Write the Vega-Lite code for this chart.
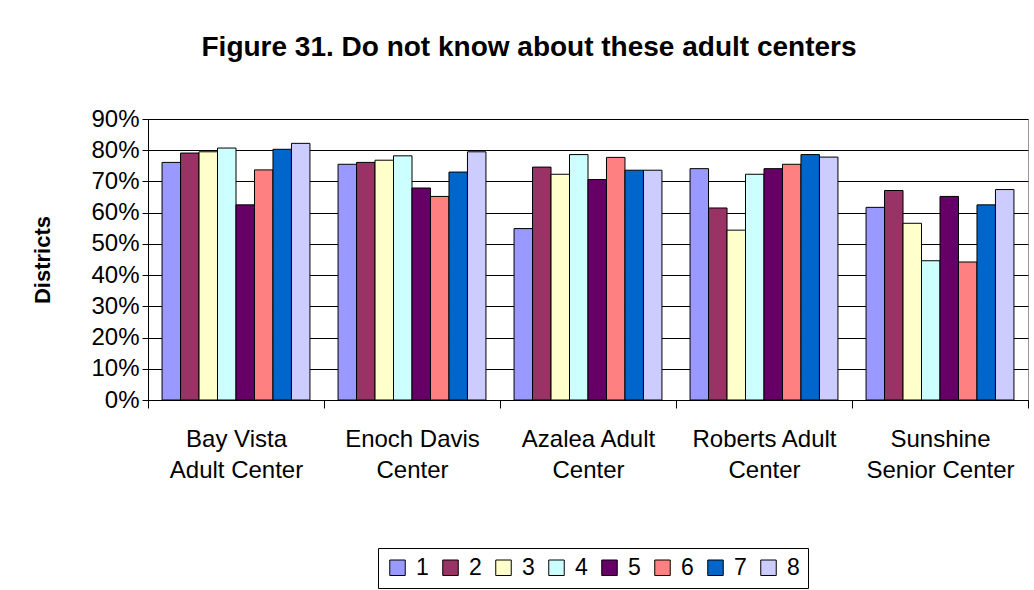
{
  "$schema": "https://vega.github.io/schema/vega-lite/v6.json",
  "width": 880,
  "height": 281,
  "autosize": {"type": "none"},
  "padding": {"left": 148, "top": 119, "right": 6, "bottom": 190},
  "background": "white",
  "title": {
    "text": "Figure 31. Do not know about these adult centers",
    "font": "Liberation Sans",
    "fontSize": 28,
    "fontWeight": "bold",
    "color": "black",
    "anchor": "middle",
    "dx": -59,
    "offset": 45
  },
  "data": {
    "values": [
      {"center": "Bay Vista Adult Center", "district": "1", "value": 0.761},
      {"center": "Bay Vista Adult Center", "district": "2", "value": 0.791},
      {"center": "Bay Vista Adult Center", "district": "3", "value": 0.795},
      {"center": "Bay Vista Adult Center", "district": "4", "value": 0.807},
      {"center": "Bay Vista Adult Center", "district": "5", "value": 0.625},
      {"center": "Bay Vista Adult Center", "district": "6", "value": 0.737},
      {"center": "Bay Vista Adult Center", "district": "7", "value": 0.803},
      {"center": "Bay Vista Adult Center", "district": "8", "value": 0.822},
      {"center": "Enoch Davis Center", "district": "1", "value": 0.755},
      {"center": "Enoch Davis Center", "district": "2", "value": 0.761},
      {"center": "Enoch Davis Center", "district": "3", "value": 0.768},
      {"center": "Enoch Davis Center", "district": "4", "value": 0.782},
      {"center": "Enoch Davis Center", "district": "5", "value": 0.679},
      {"center": "Enoch Davis Center", "district": "6", "value": 0.652},
      {"center": "Enoch Davis Center", "district": "7", "value": 0.730},
      {"center": "Enoch Davis Center", "district": "8", "value": 0.795},
      {"center": "Azalea Adult Center", "district": "1", "value": 0.549},
      {"center": "Azalea Adult Center", "district": "2", "value": 0.746},
      {"center": "Azalea Adult Center", "district": "3", "value": 0.723},
      {"center": "Azalea Adult Center", "district": "4", "value": 0.786},
      {"center": "Azalea Adult Center", "district": "5", "value": 0.706},
      {"center": "Azalea Adult Center", "district": "6", "value": 0.777},
      {"center": "Azalea Adult Center", "district": "7", "value": 0.736},
      {"center": "Azalea Adult Center", "district": "8", "value": 0.736},
      {"center": "Roberts Adult Center", "district": "1", "value": 0.741},
      {"center": "Roberts Adult Center", "district": "2", "value": 0.615},
      {"center": "Roberts Adult Center", "district": "3", "value": 0.544},
      {"center": "Roberts Adult Center", "district": "4", "value": 0.723},
      {"center": "Roberts Adult Center", "district": "5", "value": 0.741},
      {"center": "Roberts Adult Center", "district": "6", "value": 0.755},
      {"center": "Roberts Adult Center", "district": "7", "value": 0.786},
      {"center": "Roberts Adult Center", "district": "8", "value": 0.778},
      {"center": "Sunshine Senior Center", "district": "1", "value": 0.617},
      {"center": "Sunshine Senior Center", "district": "2", "value": 0.671},
      {"center": "Sunshine Senior Center", "district": "3", "value": 0.566},
      {"center": "Sunshine Senior Center", "district": "4", "value": 0.446},
      {"center": "Sunshine Senior Center", "district": "5", "value": 0.652},
      {"center": "Sunshine Senior Center", "district": "6", "value": 0.442},
      {"center": "Sunshine Senior Center", "district": "7", "value": 0.625},
      {"center": "Sunshine Senior Center", "district": "8", "value": 0.674}
    ]
  },
  "mark": {"type": "bar", "stroke": "black", "strokeWidth": 1},
  "encoding": {
    "x": {
      "field": "center",
      "type": "nominal",
      "sort": null,
      "scale": {"paddingInner": 0, "paddingOuter": 0},
      "axis": {
        "title": null,
        "labelAngle": 0,
        "labelFont": "Liberation Sans",
        "labelFontSize": 24,
        "labelColor": "black",
        "labelLineHeight": 31,
        "labelPadding": 19,
        "tickBand": "extent",
        "tickColor": "black",
        "tickSize": 8,
        "domainColor": "black",
        "labelExpr": "datum.value == 'Bay Vista Adult Center' ? ['Bay Vista', 'Adult Center'] : datum.value == 'Enoch Davis Center' ? ['Enoch Davis', 'Center'] : datum.value == 'Azalea Adult Center' ? ['Azalea Adult', 'Center'] : datum.value == 'Roberts Adult Center' ? ['Roberts Adult', 'Center'] : datum.value == 'Sunshine Senior Center' ? ['Sunshine', 'Senior Center'] : ''"
      }
    },
    "xOffset": {
      "field": "district",
      "type": "nominal",
      "scale": {"paddingInner": 0, "paddingOuter": 0.76}
    },
    "y": {
      "field": "value",
      "type": "quantitative",
      "scale": {"domain": [0, 0.9], "nice": false},
      "axis": {
        "title": "Districts",
        "titleFont": "Liberation Sans",
        "titleFontSize": 22,
        "titleFontWeight": "bold",
        "titleColor": "black",
        "titlePadding": 36,
        "values": [0, 0.1, 0.2, 0.3, 0.4, 0.5, 0.6, 0.7, 0.8, 0.9],
        "format": ".0%",
        "labelFont": "Liberation Sans",
        "labelFontSize": 24,
        "labelColor": "black",
        "labelPadding": 3,
        "tickColor": "black",
        "tickSize": 6,
        "domainColor": "black",
        "grid": true,
        "gridColor": "black",
        "gridOpacity": 1
      }
    },
    "color": {
      "field": "district",
      "type": "nominal",
      "scale": {
        "domain": ["1", "2", "3", "4", "5", "6", "7", "8"],
        "range": ["#9999FF", "#993366", "#FFFFCC", "#CCFFFF", "#660066", "#FF8080", "#0066CC", "#CCCCFF"]
      },
      "legend": {
        "title": null,
        "orient": "none",
        "direction": "horizontal",
        "legendX": 230,
        "legendY": 429,
        "strokeColor": "black",
        "padding": 8,
        "symbolType": "square",
        "symbolSize": 240,
        "symbolStrokeColor": "black",
        "symbolStrokeWidth": 1,
        "symbolOpacity": 1,
        "labelFont": "Liberation Sans",
        "labelFontSize": 23,
        "labelColor": "black",
        "labelOffset": 7,
        "columnPadding": 10
      }
    }
  },
  "config": {
    "view": {"stroke": "#999999", "strokeWidth": 1},
    "axis": {"gridWidth": 1}
  }
}
